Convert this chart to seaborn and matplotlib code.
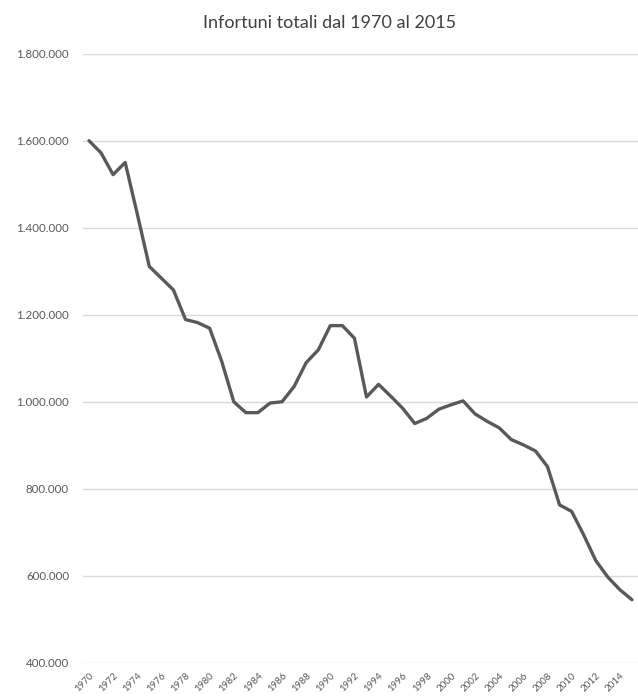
import seaborn as sns
import matplotlib.pyplot as plt
import matplotlib.ticker as mticker
import pandas as pd

# dati
anni = list(range(1970, 2016))
infortuni = [1600000, 1572000, 1522000, 1550000, 1432000, 1311000, 1284000, 1257000,
             1189000, 1182000, 1169000, 1093000, 1000000, 975000, 975000, 997000,
             1000000, 1035000, 1090000, 1119000, 1175000, 1175000, 1146000, 1011000,
             1040000, 1013000, 985000, 950000, 962000, 983000, 993000, 1002000,
             972000, 955000, 940000, 913000, 901000, 887000, 851000, 763000,
             748000, 694000, 635000, 597000, 568000, 545000]
tick_anni = list(range(1970, 2015, 2))
tick_y = list(range(400000, 1800001, 200000))

df = pd.DataFrame({"anno": anni, "infortuni": infortuni})

sns.set_theme(style="white")
plt.rcParams["font.family"] = ["Lato", "DejaVu Sans"]

fig = plt.figure(figsize=(6.38, 6.97), dpi=100)
ax = fig.add_axes([0.130, 0.049, 0.870, 0.874])

sns.lineplot(data=df, x="anno", y="infortuni", color="#595959", linewidth=2.4, ax=ax)

ax.set_xlim(1969.5, 2015.5)
ax.set_ylim(400000, 1800000)
ax.set_yticks(tick_y)
ax.yaxis.set_major_formatter(mticker.FuncFormatter(lambda v, p: f"{int(v):,}".replace(",", ".")))
ax.set_xticks(tick_anni)
ax.set_xticklabels([str(a) for a in tick_anni], rotation=45, ha="right", va="top",
                   rotation_mode="anchor")
ax.grid(axis="y", color="#d9d9d9", linewidth=1)
ax.set_axisbelow(True)
for s in ax.spines.values():
    s.set_visible(False)
ax.tick_params(axis="y", labelsize=8.3, labelcolor="#595959", length=0, pad=10)
ax.tick_params(axis="x", labelsize=7, labelcolor="#595959", length=0, pad=6)
ax.set_xlabel("")
ax.set_ylabel("")

fig.text(0.517, 0.967, "Infortuni totali dal 1970 al 2015", ha="center", va="center",
         fontsize=13, color="#404040")

fig.savefig("out.png", dpi=100)
